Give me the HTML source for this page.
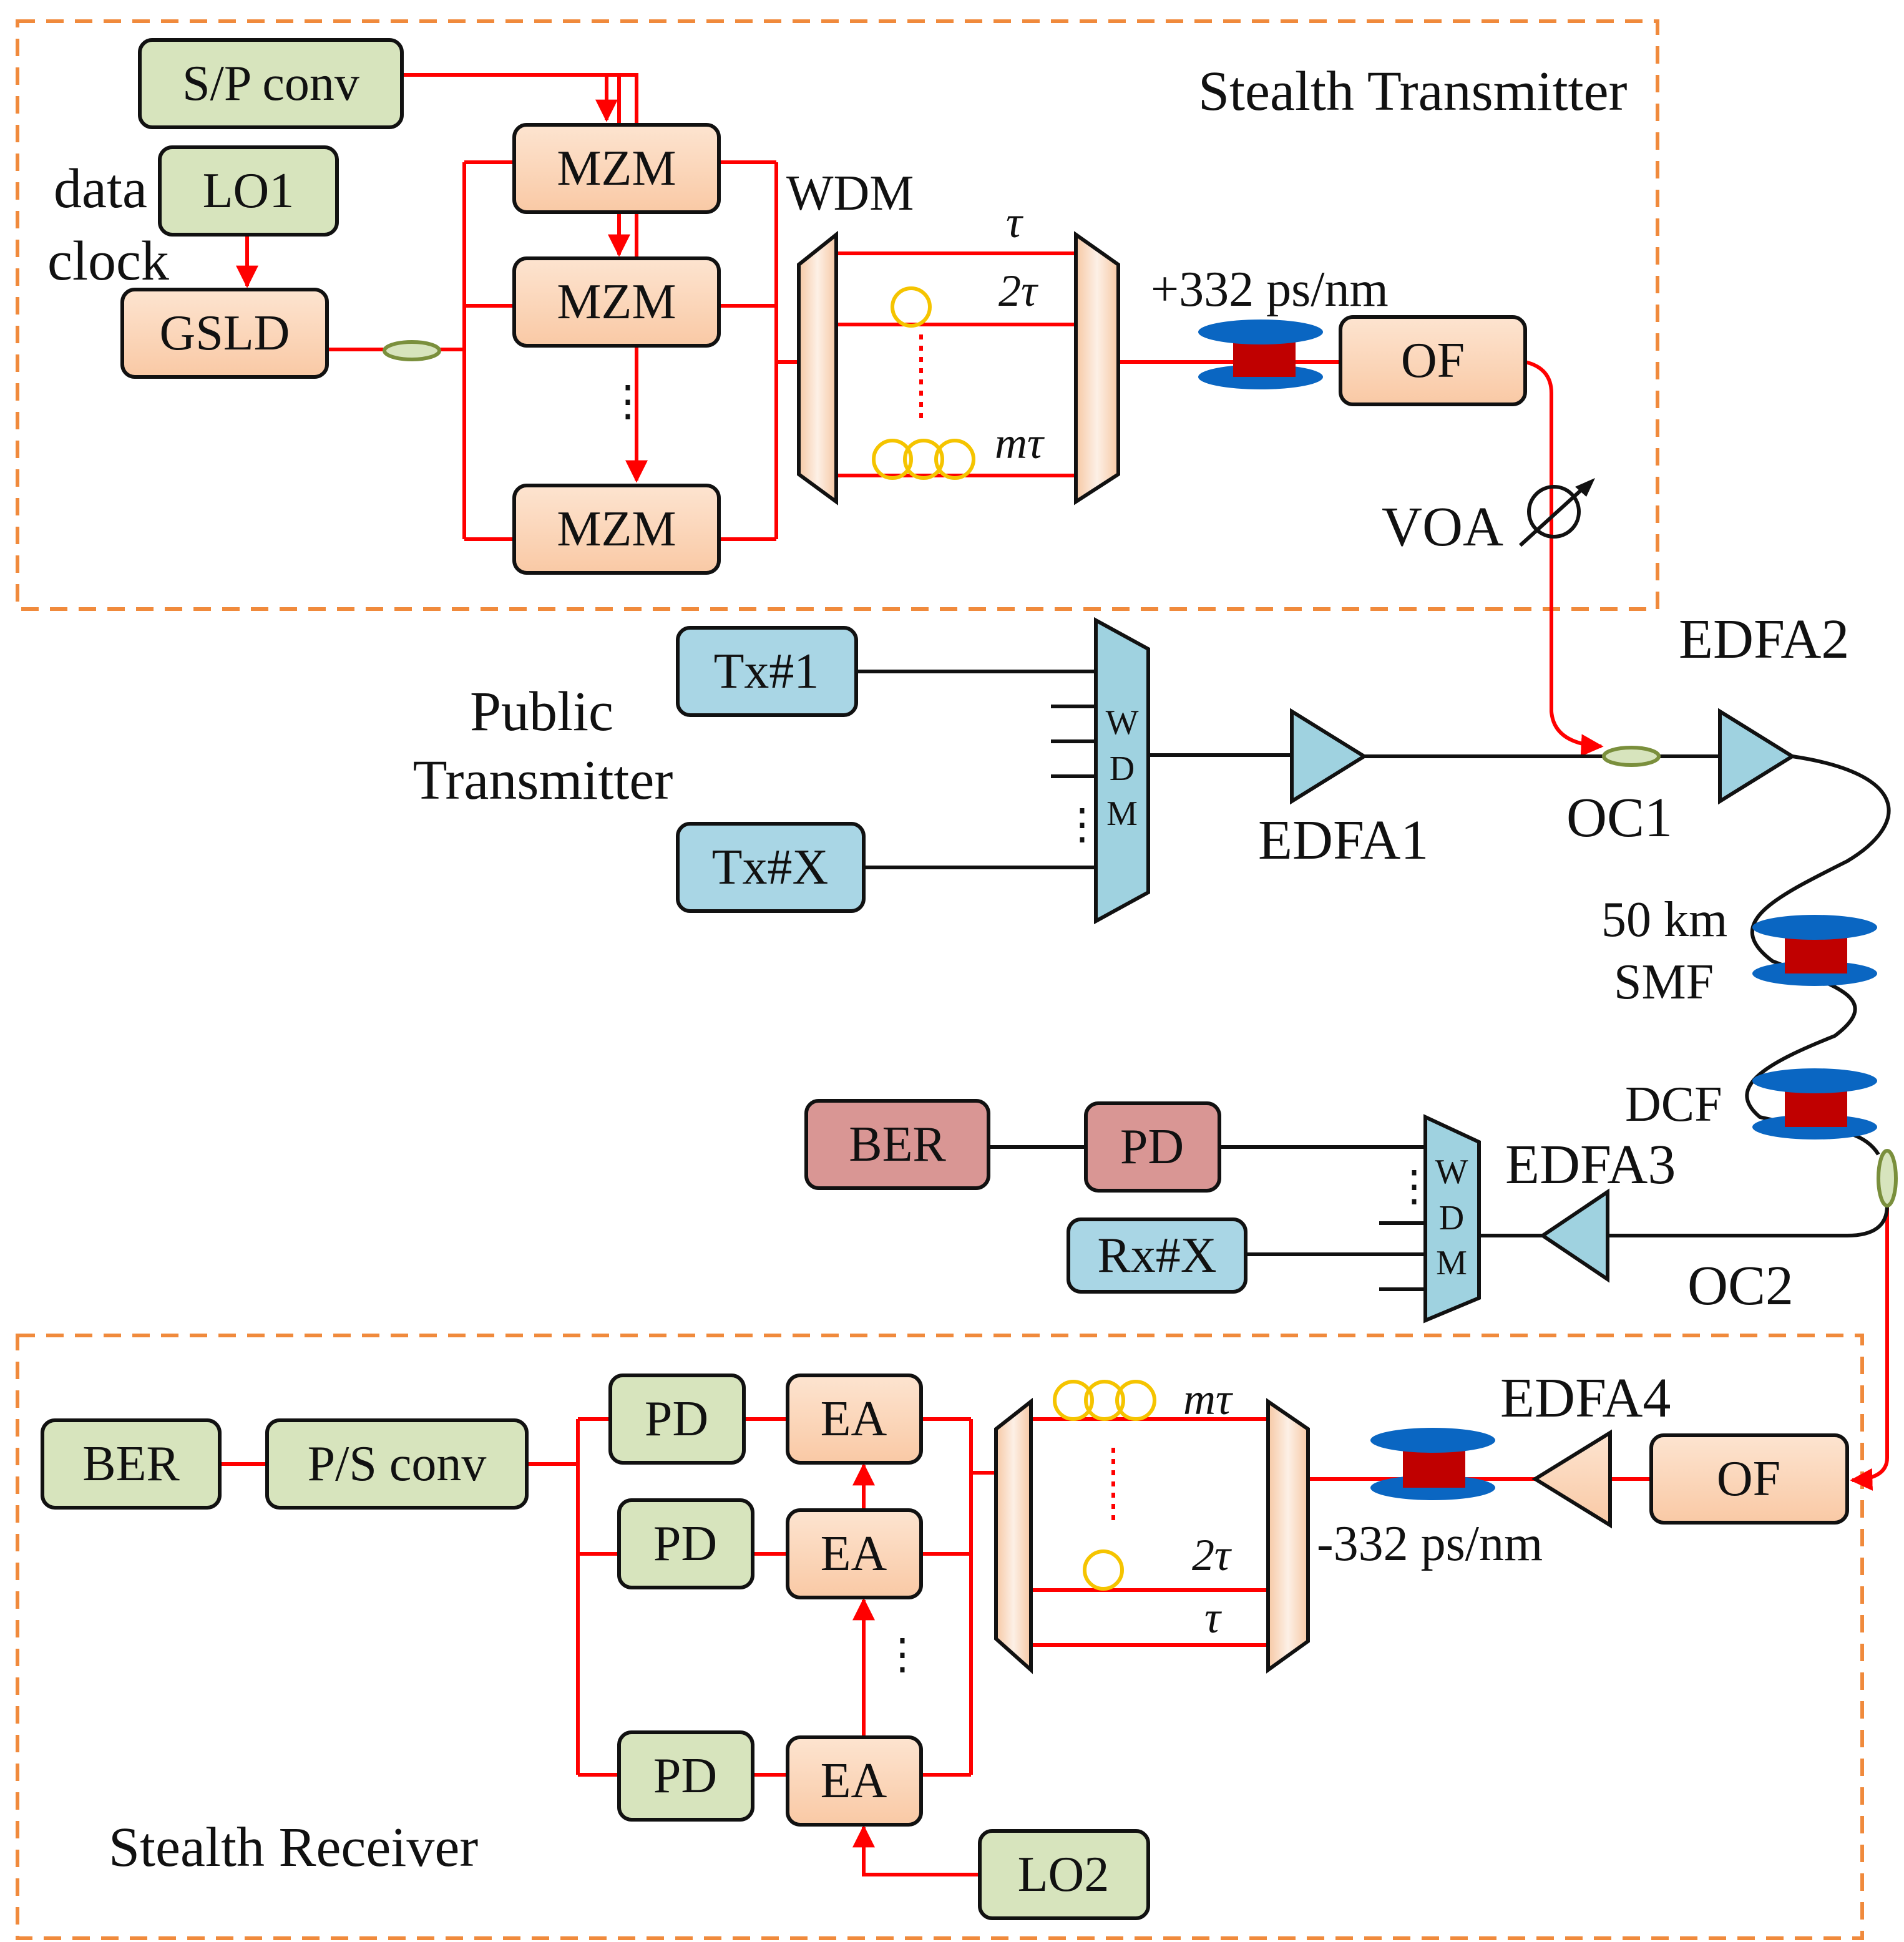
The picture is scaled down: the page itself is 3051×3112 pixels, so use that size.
<!DOCTYPE html>
<html><head><meta charset="utf-8"><style>html,body{margin:0;padding:0;background:#fff}svg{display:block}</style></head><body>
<svg width="3051" height="3112" viewBox="0 0 1525.5 1556" xmlns="http://www.w3.org/2000/svg" font-family="'Liberation Serif', serif">
<defs>
<marker id="ar" viewBox="0 0 10 10" refX="9" refY="5" markerWidth="6" markerHeight="6" orient="auto"><path d="M0,0 L10,5 L0,10 z" fill="#f00"/></marker>
<linearGradient id="go" x1="0" x2="0" y1="0" y2="1"><stop offset="0" stop-color="#fde4d0"/><stop offset="1" stop-color="#f9c9a5"/></linearGradient>
<linearGradient id="gw" x1="0" x2="1" y1="0" y2="0"><stop offset="0" stop-color="#f6c8a4"/><stop offset="0.5" stop-color="#fdf0e6"/><stop offset="1" stop-color="#f6c8a4"/></linearGradient>
</defs>
<g fill="none" stroke="#f08a3c" stroke-width="3" stroke-dasharray="14,9">
<rect x="14" y="17" width="1314" height="471"/>
<rect x="14" y="1070" width="1478" height="483"/>
</g>
<g stroke="#f00" stroke-width="3" fill="none">
<path d="M322,60 H510 V385" marker-end="url(#ar)"/>
<path d="M486,60 V96" marker-end="url(#ar)"/>
<path d="M496,60 V204" marker-end="url(#ar)"/>
<path d="M198,188 V229" marker-end="url(#ar)"/>
<path d="M262,280 H372 M372,130 V432 M372,130 H412 M372,245 H412 M372,432 H412"/>
<path d="M576,130 H622 M576,245 H622 M576,432 H622 M622,130 V432 M622,290 H640"/>
<path d="M670,203 H862 M670,260 H862 M670,381 H862"/>
<path d="M738,268 V335" stroke-dasharray="4,5"/>
<path d="M896,290 H1074"/>
<path d="M1222,290 Q1243,295 1243,315 V570 Q1245,596 1283,598" marker-end="url(#ar)"/>
<path d="M1512,966 V1168 Q1512,1185 1484,1186" marker-end="url(#ar)"/>
<path d="M1323,1185 H1290 M1230,1185 H1048 M798,1180 H778 M778,1137 V1422 M738,1137 H778 M738,1245 H778 M738,1422 H778"/>
<path d="M826,1137 H1016 M826,1274 H1016 M826,1318 H1016"/>
<path d="M892,1160 V1222" stroke-dasharray="4,5"/>
<path d="M596,1137 H631 M603,1245 H631 M603,1422 H631 M463,1137 V1422 M463,1137 H489 M463,1245 H496 M463,1422 H496 M422,1173 H463 M176,1173 H214"/>
<path d="M692,1392 V1282" marker-end="url(#ar)"/>
<path d="M692,1210 V1174" marker-end="url(#ar)"/>
<path d="M785,1502 H692 V1464" marker-end="url(#ar)"/>
</g>
<circle cx="1245" cy="410" r="20" fill="none" stroke="#111" stroke-width="3"/>
<path d="M1218,437 L1272,388" stroke="#111" stroke-width="3"/>
<path d="M1278,383 L1262,390 L1271,398 z" fill="#111"/>
<g stroke="#111" stroke-width="3" fill="none">
<path d="M686,538 H878 M692,695 H878 M842,566 H878 M842,594 H878 M842,622 H878"/>
<path d="M920,605 H1035 M1093,606 H1378"/>
<path d="M1436,606 C1530,620 1530,660 1480,690 C1420,720 1380,740 1420,770 C1470,790 1510,800 1470,830 C1420,850 1380,870 1410,895 C1450,905 1490,900 1505,925"/>
<path d="M1512,966 Q1512,990 1480,990 H1288 M1236,990 H1185"/>
<path d="M977,919 H1142 M998,1005 H1142 M1105,980 H1142 M1105,1033 H1142 M792,919 H870"/>
</g>
<g fill="#111" font-size="34"><text x="486" y="333">⋮</text><text x="850" y="672">⋮</text><text x="1116" y="962">⋮</text><text x="706" y="1337">⋮</text></g>
<ellipse cx="330" cy="281" rx="22" ry="7" fill="#d7e4bd" stroke="#7a8f3c" stroke-width="3"/>
<ellipse cx="1307" cy="606" rx="22" ry="7" fill="#d7e4bd" stroke="#7a8f3c" stroke-width="3"/>
<ellipse cx="1512" cy="944" rx="7" ry="22" fill="#d7e4bd" stroke="#7a8f3c" stroke-width="3"/>
<g fill="none" stroke="#f5c400" stroke-width="3">
<circle cx="730" cy="246" r="15"/><circle cx="715" cy="368" r="15"/><circle cx="740" cy="368" r="15"/><circle cx="765" cy="368" r="15"/>
<circle cx="860" cy="1122" r="15"/><circle cx="885" cy="1122" r="15"/><circle cx="910" cy="1122" r="15"/><circle cx="884" cy="1258" r="15"/>
</g>
<g>
<ellipse cx="1010" cy="302" rx="50" ry="10" fill="#0a66c2"/><rect x="988" y="268" width="50" height="34" fill="#c00000"/><ellipse cx="1010" cy="266" rx="50" ry="10" fill="#0a66c2"/>
<ellipse cx="1454" cy="780" rx="50" ry="10" fill="#0a66c2"/><rect x="1430" y="745" width="50" height="35" fill="#c00000"/><ellipse cx="1454" cy="743" rx="50" ry="10" fill="#0a66c2"/>
<ellipse cx="1454" cy="903" rx="50" ry="10" fill="#0a66c2"/><rect x="1430" y="868" width="50" height="35" fill="#c00000"/><ellipse cx="1454" cy="866" rx="50" ry="10" fill="#0a66c2"/>
<ellipse cx="1148" cy="1192" rx="50" ry="10" fill="#0a66c2"/><rect x="1124" y="1157" width="50" height="35" fill="#c00000"/><ellipse cx="1148" cy="1154" rx="50" ry="10" fill="#0a66c2"/>
</g>
<g stroke="#111" stroke-width="3" fill="url(#gw)">
<polygon points="640,212 670,188 670,402 640,380"/>
<polygon points="862,188 896,212 896,380 862,402"/>
<polygon points="798,1145 826,1123 826,1338 798,1313"/>
<polygon points="1016,1123 1048,1145 1048,1315 1016,1338"/>
</g>
<g stroke="#111" stroke-width="3" fill="#9fd2e0">
<polygon points="878,497 920,520 920,715 878,738"/>
<polygon points="1142,895 1185,915 1185,1040 1142,1058"/>
<polygon points="1035,570 1035,642 1093,606"/>
<polygon points="1378,570 1378,642 1436,606"/>
<polygon points="1288,955 1288,1025 1236,990"/>
</g>
<polygon points="1290,1148 1290,1222 1230,1185" fill="url(#go)" stroke="#111" stroke-width="3"/>
<g stroke="#111" stroke-width="3">
<g fill="#d7e4bd">
<rect x="112" y="32" width="210" height="70" rx="10"/><rect x="128" y="118" width="142" height="70" rx="10"/>
<rect x="34" y="1138" width="142" height="70" rx="10"/><rect x="214" y="1138" width="208" height="70" rx="10"/>
<rect x="489" y="1102" width="107" height="70" rx="10"/><rect x="496" y="1202" width="107" height="70" rx="10"/><rect x="496" y="1388" width="107" height="70" rx="10"/>
<rect x="785" y="1467" width="135" height="70" rx="10"/>
</g>
<g fill="url(#go)">
<rect x="98" y="232" width="164" height="70" rx="10"/>
<rect x="412" y="100" width="164" height="70" rx="10"/><rect x="412" y="207" width="164" height="70" rx="10"/><rect x="412" y="389" width="164" height="70" rx="10"/>
<rect x="1074" y="254" width="148" height="70" rx="10"/><rect x="1323" y="1150" width="157" height="70" rx="10"/>
<rect x="631" y="1102" width="107" height="70" rx="10"/><rect x="631" y="1210" width="107" height="70" rx="10"/><rect x="631" y="1392" width="107" height="70" rx="10"/>
</g>
<g fill="#a9d6e5">
<rect x="543" y="503" width="143" height="70" rx="10"/><rect x="543" y="660" width="149" height="70" rx="10"/><rect x="856" y="977" width="142" height="58" rx="10"/>
</g>
<g fill="#d99694">
<rect x="646" y="882" width="146" height="70" rx="10"/><rect x="870" y="884" width="107" height="70" rx="10"/>
</g>
</g>
<g fill="#111" font-size="40" text-anchor="middle">
<text x="217" y="80">S/P conv</text><text x="199" y="166">LO1</text><text x="180" y="280">GSLD</text>
<text x="494" y="148">MZM</text><text x="494" y="255">MZM</text><text x="494" y="437">MZM</text>
<text x="1148" y="302">OF</text><text x="1401" y="1198">OF</text>
<text x="614" y="551">Tx#1</text><text x="617" y="708">Tx#X</text><text x="927" y="1019">Rx#X</text>
<text x="719" y="930">BER</text><text x="923" y="932">PD</text>
<text x="105" y="1186">BER</text><text x="318" y="1186">P/S conv</text>
<text x="542" y="1150">PD</text><text x="549" y="1250">PD</text><text x="549" y="1436">PD</text>
<text x="684" y="1150">EA</text><text x="684" y="1258">EA</text><text x="684" y="1440">EA</text>
<text x="852" y="1515">LO2</text>
</g>
<g fill="#111" font-size="45" text-anchor="middle">
<text x="434" y="585">Public</text><text x="435" y="640">Transmitter</text>
</g>
<g fill="#111" font-size="28" text-anchor="middle">
<text x="899" y="588">W</text><text x="899" y="625">D</text><text x="899" y="661">M</text>
<text x="1163" y="948">W</text><text x="1163" y="985">D</text><text x="1163" y="1021">M</text>
</g>
<g fill="#111" font-size="45">
<text x="43" y="166">data</text><text x="38" y="224">clock</text>
<text x="960" y="88">Stealth Transmitter</text>
<text x="1107" y="437">VOA</text>
<text x="1008" y="688">EDFA1</text><text x="1255" y="670">OC1</text><text x="1345" y="527">EDFA2</text>
<text x="1206" y="948">EDFA3</text><text x="1352" y="1045">OC2</text><text x="1202" y="1135">EDFA4</text>
<text x="87" y="1495">Stealth Receiver</text>
</g>
<g fill="#111" font-size="40">
<text x="630" y="168">WDM</text>
<text x="922" y="245">+332 ps/nm</text>
<text x="1055" y="1250">-332 ps/nm</text>
<text x="1283" y="750">50 km</text><text x="1293" y="800">SMF</text><text x="1302" y="898">DCF</text>
</g>
<g fill="#111" font-size="36" font-style="italic">
<text x="806" y="190">τ</text><text x="800" y="245">2τ</text><text x="797" y="367">mτ</text>
<text x="948" y="1133">mτ</text><text x="955" y="1258">2τ</text><text x="965" y="1308">τ</text>
</g>
</svg>
</body></html>
